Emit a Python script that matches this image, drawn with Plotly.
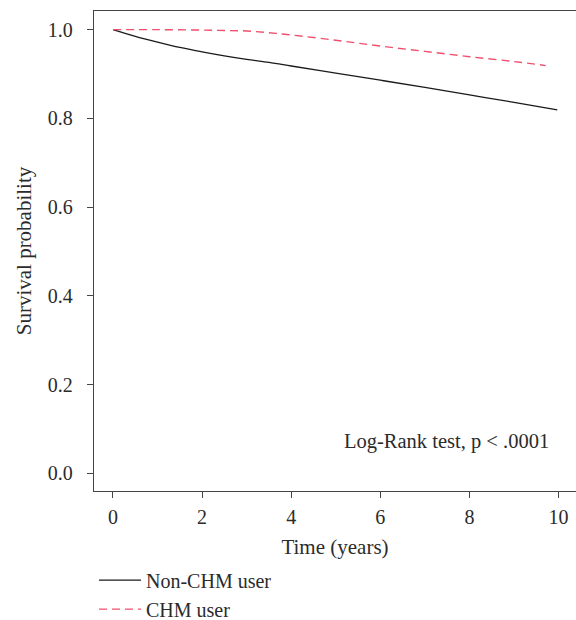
import plotly.graph_objects as go

# Kaplan-Meier curves
time_non = [0, 0.5, 1, 1.5, 2, 2.5, 3, 3.5, 4, 5, 6, 7, 8, 9, 9.97]
surv_non = [1.0, 0.985, 0.972, 0.960, 0.950, 0.941, 0.933, 0.926, 0.918, 0.902, 0.886, 0.870, 0.853, 0.836, 0.819]

time_chm = [0, 1, 2, 2.5, 3, 3.5, 4, 5, 6, 7, 8, 9, 9.71]
surv_chm = [1.0, 1.0, 0.999, 0.998, 0.997, 0.993, 0.988, 0.976, 0.963, 0.951, 0.939, 0.928, 0.919]

series_names = ["Non-CHM user", "CHM user"]
x_ticks = [0, 2, 4, 6, 8, 10]
y_ticks = [0.0, 0.2, 0.4, 0.6, 0.8, 1.0]

FONT = "Liberation Serif"
TXT = "#2b2b2b"

fig = go.Figure()
fig.add_trace(go.Scatter(x=time_non, y=surv_non, mode="lines", name=series_names[0],
                         line=dict(color="#1a1a1a", width=1.3, shape="spline")))
fig.add_trace(go.Scatter(x=time_chm, y=surv_chm, mode="lines", name=series_names[1],
                         line=dict(color="#f0506e", width=1.4, dash="8px,5px", shape="spline")))

fig.add_annotation(x=9.84, y=0.0706, xref="x", yref="y", text="Log-Rank test, p < .0001",
                   showarrow=False, xanchor="right", yanchor="middle",
                   font=dict(family=FONT, size=20.5, color=TXT))

axis_common = dict(showgrid=False, zeroline=False, showline=True, linecolor="#444",
                   linewidth=1.3, ticks="outside", ticklen=6, tickwidth=1.2, tickcolor="#444",
                   tickfont=dict(family=FONT, size=20, color=TXT))

fig.update_xaxes(range=[-0.426, 10.39], tickvals=x_ticks, mirror=True, ticklabelstandoff=2,
                 title=dict(text="Time (years)", font=dict(family=FONT, size=21, color=TXT), standoff=12),
                 **axis_common)
fig.update_yaxes(range=[-0.04, 1.042], tickvals=y_ticks, tickformat=".1f", mirror=False,
                 ticklabelstandoff=10,
                 title=dict(text="Survival probability", font=dict(family=FONT, size=21, color=TXT), standoff=10),
                 **axis_common)

fig.update_layout(
    width=576, height=620,
    margin=dict(l=94, r=0, t=11, b=129, autoexpand=False),
    plot_bgcolor="white", paper_bgcolor="white",
    showlegend=True,
    legend=dict(x=0, y=-0.145, xanchor="left", yanchor="top", orientation="v",
                itemwidth=42,
                font=dict(family=FONT, size=20, color=TXT), bgcolor="rgba(0,0,0,0)"),
)

fig.write_html("out.html", config={"displayModeBar": False},
               post_script="document.body.style.margin='0px';document.body.style.overflow='hidden';")
